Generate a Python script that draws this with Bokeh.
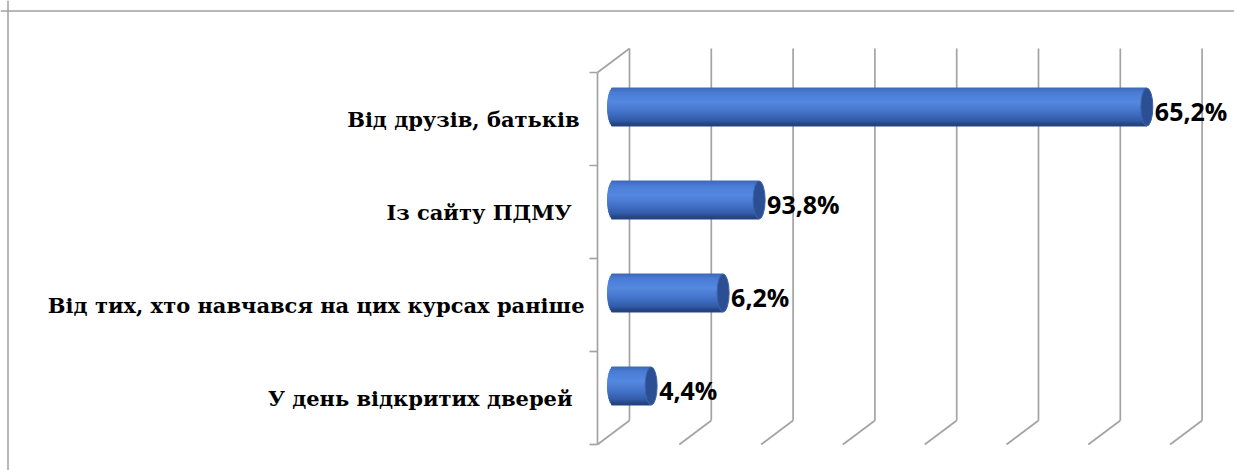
import numpy as np
from bokeh.plotting import figure
from bokeh.models import Range1d, ColumnDataSource, Span
from bokeh.core.properties import value
from bokeh.embed import file_html
from bokeh.resources import INLINE

# ---- data ----
categories = ["Від друзів, батьків", "Із сайту ПДМУ",
              "Від тих, хто навчався на цих курсах раніше", "У день відкритих дверей"]
bar_values = [65.2, 17.8, 13.4, 4.6]
value_labels = ["65,2%", "93,8%", "6,2%", "4,4%"]
x_ticks = [0, 10, 20, 30, 40, 50, 60, 70]

# ---- layout / style ----
W, H = 1234, 470
PX_PER_UNIT = 8.18       # pixels per percent
ZERO_PX = 613            # frame pixel of value 0 (mid depth)
PX_PER_CAT = 93.0
CAT0_PX = 118.5          # frame pixel of first category centre
DEPTH_X = 32 / PX_PER_UNIT
DEPTH_Y = -24 / PX_PER_CAT
label_pad = [10, 18, 5, 17]   # px gap of each category label from the axis

x_range = Range1d(-ZERO_PX / PX_PER_UNIT, (W - ZERO_PX) / PX_PER_UNIT)
y_range = Range1d((H - CAT0_PX) / PX_PER_CAT, -CAT0_PX / PX_PER_CAT)

p = figure(width=W, height=H, x_range=x_range, y_range=y_range,
           x_axis_type=None, y_axis_type=None, toolbar_location=None,
           output_backend="svg", min_border=0)
p.grid.visible = False
p.outline_line_color = None
p.background_fill_color = "white"
p.border_fill_color = "white"

n = len(categories)
cat_y = np.arange(n, dtype=float)
lo, hi = -0.5, n - 0.5
fx0 = -DEPTH_X / 2       # front of zero plane
bx0 = DEPTH_X / 2        # back of zero plane
grid_col = "#a3a3a3"

# outer chart border (left + top)
p.add_layout(Span(location=x_range.start + 7.5 / PX_PER_UNIT, dimension="height",
                  line_color="#a0a0a0", line_width=1.5))
p.add_layout(Span(location=y_range.end + 10.5 / PX_PER_CAT, dimension="width",
                  line_color="#a0a0a0", line_width=1.5))

# back wall vertical gridlines
gx = np.array(x_ticks, dtype=float) + bx0
p.segment(x0=gx, y0=[lo + DEPTH_Y] * len(gx), x1=gx, y1=[hi + DEPTH_Y] * len(gx),
          line_color=grid_col, line_width=1.7)
# floor diagonals
p.segment(x0=gx, y0=[hi + DEPTH_Y] * len(gx), x1=np.array(x_ticks) + fx0, y1=[hi] * len(gx),
          line_color=grid_col, line_width=1.7)
# side wall: front axis, top diagonal
p.segment(x0=[fx0], y0=[lo], x1=[fx0], y1=[hi], line_color=grid_col, line_width=1.7)
p.segment(x0=[fx0], y0=[lo], x1=[bx0], y1=[lo + DEPTH_Y], line_color=grid_col, line_width=1.7)
# category ticks
tb = np.arange(n + 1) - 0.5
p.segment(x0=[fx0 - 8 / PX_PER_UNIT] * len(tb), y0=tb, x1=[fx0] * len(tb), y1=tb,
          line_color=grid_col, line_width=1.7)

# ---- cylinders ----
half_h = 19 / PX_PER_CAT
cap_a = 6 / PX_PER_UNIT
bar_y = cat_y + DEPTH_Y / 2

stops_t = [0.0, 0.12, 0.38, 0.62, 0.85, 1.0]
stops_c = [(0x3a, 0x66, 0xb4), (0x4a, 0x7c, 0xd4), (0x55, 0x89, 0xe0),
           (0x46, 0x75, 0xcc), (0x34, 0x5e, 0xab), (0x22, 0x3e, 0x78)]

def shade(t):
    rgb = [int(round(np.interp(t, stops_t, [c[k] for c in stops_c]))) for k in range(3)]
    return "#%02x%02x%02x" % tuple(rgb)

N = 19
left, right, top, bottom, colors = [], [], [], [], []
for v, yc in zip(bar_values, bar_y):
    for i in range(N):
        t0 = i / N
        t1 = (i + 1) / N
        tm = (t0 + t1) / 2
        rel = (tm - 0.5) * 2
        xl = -cap_a * np.sqrt(max(0.0, 1 - rel ** 2))
        left.append(xl)
        right.append(v)
        top.append(yc - half_h + 2 * half_h * t0)
        bottom.append(yc - half_h + 2 * half_h * t1)
        colors.append(shade(tm))
p.quad(left=left, right=right, top=top, bottom=bottom, fill_color=colors,
       line_color=colors, line_width=1)

# end caps
p.ellipse(x=bar_values, y=bar_y, width=2 * cap_a, height=2 * half_h,
          fill_color="#2c4f93", line_color="#3b62aa", line_width=1)

# value labels
vsrc = ColumnDataSource(dict(x=bar_values, y=bar_y, t=value_labels))
p.text(x="x", y="y", text="t", source=vsrc, x_offset=8, y_offset=4,
       text_font=value("Open Sans"), text_font_style="bold", text_font_size="25px",
       text_color="black", text_align="left", text_baseline="middle")

# category labels
csrc = ColumnDataSource(dict(x=[fx0] * n, y=cat_y, t=categories,
                             xo=[-(8 + pad) for pad in label_pad]))
p.text(x="x", y="y", text="t", source=csrc, x_offset="xo", y_offset=0,
       text_font=value("DejaVu Serif"), text_font_style="bold",
       text_font_size="21px",
       text_color="black", text_align="right", text_baseline="middle")

open("out.html", "w").write(file_html(p, INLINE))
